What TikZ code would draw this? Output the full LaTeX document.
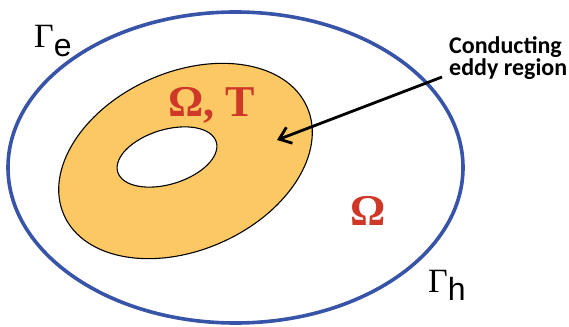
\documentclass[tikz,border=0pt]{standalone}
\usepackage{fontspec}
\usepackage{tikz}
\usetikzlibrary{arrows.meta}
\setmainfont{Liberation Serif}
\newfontfamily\notefont{Carlito}
\newfontfamily\subfont{Liberation Sans}
\definecolor{bndBlue}{RGB}{56,84,168}
\definecolor{eddyFill}{RGB}{252,200,100}
\definecolor{omRed}{RGB}{207,55,40}

\begin{document}
\begin{tikzpicture}[
  x=1pt, y=-1pt,
  boundary/.style={draw=bndBlue, line width=3.6pt},
  rim/.style={draw=black, line width=1.1pt},
  omlabel/.style={text=omRed, inner sep=0pt, font=\fontsize{44}{44}\selectfont\bfseries},
  gam/.style={inner sep=0pt, anchor=base west, font=\fontsize{34}{34}\selectfont},
  note/.style={inner sep=0pt, align=left, font=\notefont\bfseries\fontsize{24}{22}\selectfont},
  pointer/.style={-{Straight Barb[length=11pt, width=17pt, line width=2.8pt]}, line width=2.8pt}
]
\useasboundingbox (0,0) rectangle (569,326);
% outer boundary
\draw[boundary] (235.5,167.5) ellipse [x radius=227.5, y radius=155.5];
% conducting region, then the hole
\draw[rim, fill=eddyFill, rotate around={24:(185.5,161)}] (185.5,161) ellipse [x radius=133, y radius=89];
\draw[rim, fill=white, rotate around={17:(167,157)}] (167,157) ellipse [x radius=51.5, y radius=27.3];
% labels
\node[omlabel, anchor=base west] (omt) at (168,117) {Ω, T};
\node[omlabel, anchor=base west] (om) at (350,225) {Ω};
\node[gam] (game) at (34,48) {Γ\raisebox{-9pt}{\subfont\fontsize{32}{32}\selectfont e}};
\node[gam] (gamh) at (428,292) {Γ\raisebox{-8pt}{\subfont\fontsize{32}{32}\selectfont h}};
\node[note, anchor=north west] (eddy) at (449,36) {Conducting\\eddy region};
\coordinate (tail) at (442,77);
\coordinate (tip) at (277,140);
\draw[pointer] (tail) -- (tip);
\end{tikzpicture}
\end{document}
